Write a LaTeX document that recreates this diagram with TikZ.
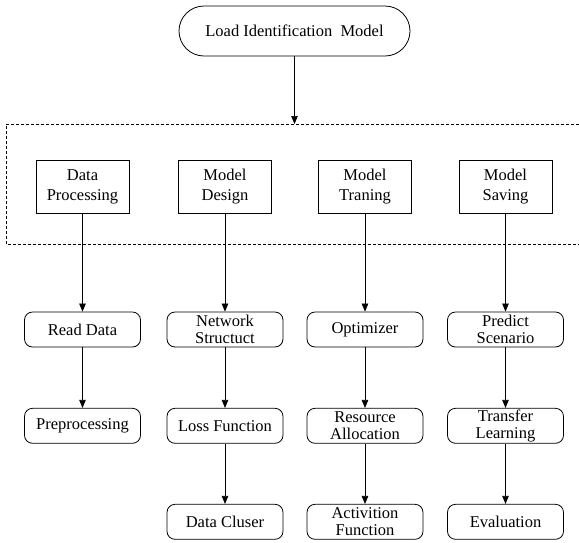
\documentclass[tikz,border=0pt]{standalone}
\usepackage{fontspec}
\setmainfont{Liberation Serif}
\usetikzlibrary{arrows.meta}
\begin{document}
\begin{tikzpicture}[x=1pt,y=-1pt,
  every node/.style={font=\fontsize{16.5}{17.5}\selectfont, inner sep=0pt, align=center},
  topnode/.style={draw, line width=0.8pt, rounded corners=25pt, minimum width=231pt, minimum height=50pt},
  sqbox/.style={draw, line width=0.7pt, minimum width=93pt, minimum height=53pt, font=\fontsize{16.5}{20}\selectfont},
  rbox/.style={draw, line width=0.8pt, rounded corners=8pt, minimum width=116pt, minimum height=35pt},
  arr/.style={line width=0.7pt, -{Triangle[length=8pt,width=6.5pt]}},
  frame/.style={line width=0.7pt, dash pattern=on 3pt off 2pt}
]
\useasboundingbox (0,0) rectangle (579,542);
% top node
\node[topnode] (top) at (294.5,31) {Load Identification\ \ Model};
% dashed frame
\draw[frame] (579,124) -- (6,124) -- (6,244) -- (579,244);
\coordinate (dt) at (294.5,124);
\draw[arr] (top) -- (dt);
% upper boxes
\node[sqbox] (dp) at (82.5,186.5) {Data\\Processing};
\node[sqbox] (md) at (225,186.5) {Model\\Design};
\node[sqbox] (mt) at (365,186.5) {Model\\Traning};
\node[sqbox] (ms) at (505.5,186.5) {Model\\Saving};
% rounded boxes
\node[rbox] (rd) at (82.5,329.5) {Read Data};
\node[rbox] (pp) at (82.5,425.8) {Preprocessing};
\node[rbox] (ns) at (225,329.5) {Network\\Structuct};
\node[rbox] (lf) at (225,425.8) {Loss Function};
\node[rbox] (dc) at (225,521.8) {Data Cluser};
\node[rbox] (op) at (365,329.5) {Optimizer};
\node[rbox] (ra) at (365,425.8) {Resource\\Allocation};
\node[rbox] (af) at (365,521.8) {Activition\\Function};
\node[rbox] (ps) at (505.5,329.5) {Predict\\Scenario};
\node[rbox] (tl) at (505.5,425.8) {Transfer\\Learning};
\node[rbox] (ev) at (505.5,521.8) {Evaluation};
% connectors
\draw[arr] (dp) -- (rd);
\draw[arr] (rd) -- (pp);
\draw[arr] (md) -- (ns);
\draw[arr] (ns) -- (lf);
\draw[arr] (lf) -- (dc);
\draw[arr] (mt) -- (op);
\draw[arr] (op) -- (ra);
\draw[arr] (ra) -- (af);
\draw[arr] (ms) -- (ps);
\draw[arr] (ps) -- (tl);
\draw[arr] (tl) -- (ev);
\end{tikzpicture}
\end{document}
